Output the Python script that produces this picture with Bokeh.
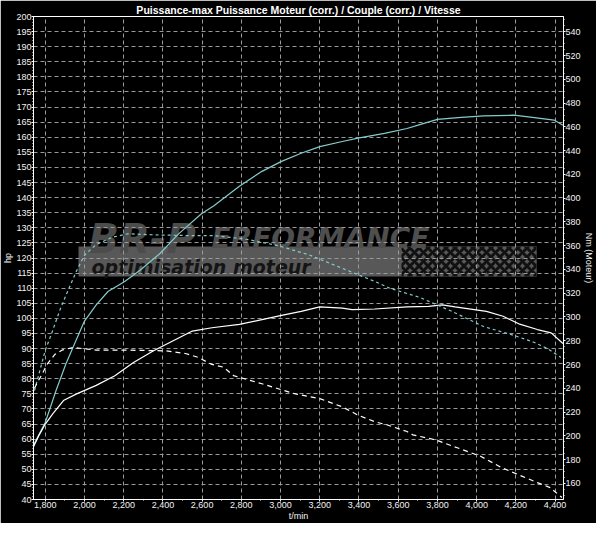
from bokeh.plotting import figure
from bokeh.models import (Range1d, LinearAxis, SingleIntervalTicker, NumeralTickFormatter,
                          Label, BoxAnnotation)
from bokeh.embed import file_html
from bokeh.resources import INLINE

# ---------------- data ----------------
TITLE = "Puissance-max Puissance Moteur (corr.) / Couple (corr.) / Vitesse"
X_LABEL = "t/min"
Y_LABEL = "hp"
Y2_LABEL = "Nm (Moteur)"

# power, tuned (cyan solid) - hp
rpm_power_tuned = [1740, 1800, 1855, 1905, 1945, 2000, 2060, 2120, 2205, 2285, 2385, 2480,
                   2595, 2660, 2790, 2905, 3005, 3105, 3200, 3315, 3395, 3530, 3645, 3710,
                   3800, 3905, 4035, 4190, 4295, 4395, 4440]
hp_power_tuned = [58.0, 65.5, 76.1, 84.9, 90.9, 99.1, 104.5, 108.9, 112.2, 116.0, 121.5, 128.0,
                  134.6, 137.3, 143.8, 148.7, 152.0, 154.7, 156.9, 158.6, 159.7, 161.3, 162.9, 164.2,
                  165.9, 166.5, 167.1, 167.3, 166.5, 165.7, 164.0]

# power, stock (white solid) - hp
rpm_power_stock = [1740, 1770, 1800, 1840, 1895, 1960, 2060, 2155, 2250, 2350, 2450, 2550,
                   2650, 2790, 2905, 3005, 3105, 3200, 3315, 3365, 3480, 3645, 3755, 3825,
                   3890, 4050, 4135, 4215, 4310, 4380, 4440]
hp_power_stock = [57.5, 61.5, 65.0, 68.5, 72.9, 75.0, 77.8, 81.0, 85.4, 89.2, 92.5, 95.8,
                  96.9, 98.0, 99.6, 101.0, 102.3, 103.8, 103.4, 102.9, 103.1, 103.8, 104.0, 104.5,
                  103.8, 102.3, 100.7, 98.2, 96.3, 95.2, 91.7]

# torque, tuned (cyan dashed) - Nm
rpm_torque_tuned = [1745, 1800, 1830, 1875, 1910, 1960, 2000, 2060, 2140, 2220, 2380, 2550,
                    2660, 2825, 2990, 3150, 3315, 3480, 3560, 3650, 3710, 3870, 4035, 4200,
                    4295, 4360, 4430]
nm_torque_tuned = [238, 272, 285, 306, 320, 339, 352, 361, 367, 370, 369, 368.5,
                   368.5, 365.5, 360, 352, 341, 330, 324, 319.5, 316.5, 305, 292, 284,
                   278.5, 273.5, 266]

# torque, stock (white dashed) - Nm
rpm_torque_stock = [1745, 1765, 1780, 1810, 1850, 1885, 1940, 2060, 2220, 2415, 2515, 2580,
                    2645, 2710, 2760, 2905, 3070, 3200, 3315, 3395, 3480, 3545, 3645, 3675,
                    3790, 3905, 4020, 4130, 4230, 4310, 4375, 4435]
nm_torque_stock = [240, 246.5, 250.7, 260.4, 268.7, 272.1, 274.3, 272.1, 272.1, 271.5, 269.3, 266.0,
                   260.4, 257.7, 250.7, 243.8, 235.5, 231.3, 224.4, 217.4, 211.9, 209.1, 203.6, 200.8,
                   196.6, 189.7, 182.8, 173.0, 166.1, 160.6, 156.4, 148.1]

# ---------------- figure ----------------
FONT = "Liberation Sans"
CYAN = "#84cccc"
TXT = "#f2f2f2"
W, H = 596, 523

p = figure(width=W, height=H, output_backend="svg", toolbar_location=None,
           x_range=Range1d(1740, 4443), y_range=Range1d(40, 200),
           min_border_left=0, min_border_right=0, min_border_top=0, min_border_bottom=0,
           background_fill_color="black", border_fill_color="black",
           outline_line_color="white", outline_line_width=1,
           title=TITLE)

p.title.text_font = FONT
p.title.text_font_style = "bold"
p.title.text_font_size = "10.5px"
p.title.text_color = "white"
p.title.align = "center"
p.title.standoff = 2
p.title.offset = 0

p.extra_y_ranges = {"nm": Range1d(146.4, 552.9)}

xt = SingleIntervalTicker(interval=200, num_minor_ticks=2)
yt = SingleIntervalTicker(interval=5, num_minor_ticks=5)
p.xaxis.ticker = xt
p.yaxis.ticker = yt
p.xgrid.ticker = xt
p.ygrid.ticker = yt
p.xaxis.formatter = NumeralTickFormatter(format="0,0")
p.xaxis.axis_label = X_LABEL
p.yaxis.axis_label = Y_LABEL

right = LinearAxis(y_range_name="nm", axis_label=Y2_LABEL,
                   ticker=SingleIntervalTicker(interval=20, num_minor_ticks=4))
p.add_layout(right, "right")


def style_axis(ax):
    ax.axis_line_color = "white"
    ax.major_tick_line_color = "white"
    ax.minor_tick_line_color = "white"
    ax.major_tick_in = 0
    ax.major_tick_out = 2
    ax.minor_tick_in = 0
    ax.minor_tick_out = 1
    ax.major_label_text_color = TXT
    ax.major_label_text_font = FONT
    ax.major_label_text_font_size = "9px"
    ax.major_label_standoff = 0
    ax.axis_label_text_color = TXT
    ax.axis_label_text_font = FONT
    ax.axis_label_text_font_size = "9px"
    ax.axis_label_text_font_style = "normal"
    ax.axis_label_standoff = 0


for ax in (p.xaxis[0], p.yaxis[0], right):
    style_axis(ax)

for g in (p.xgrid[0], p.ygrid[0]):
    g.grid_line_color = "#9a9a9a"
    g.grid_line_dash = "4 3"
    g.grid_line_width = 1

# ---------------- watermark logo (below grid) ----------------
p.add_layout(BoxAnnotation(left=45, right=503, bottom=223, top=253,
                           left_units="screen", right_units="screen",
                           bottom_units="screen", top_units="screen",
                           fill_color="#585858", fill_alpha=1, line_alpha=0, level="image"))
p.add_layout(BoxAnnotation(left=368, right=503, bottom=223, top=253,
                           left_units="screen", right_units="screen",
                           bottom_units="screen", top_units="screen",
                           fill_color="#585858", fill_alpha=1, line_alpha=0,
                           hatch_pattern="diagonal_cross", hatch_color="#111111",
                           hatch_scale=9, hatch_weight=3, level="image"))
p.add_layout(Label(x=55, y=261, x_units="screen", y_units="screen", text="BR-P",
                   text_font="DejaVu Sans", text_font_style="bold italic", text_font_size="40px",
                   text_color="#4c4c4c", text_baseline="alphabetic", level="image"))
p.add_layout(Label(x=178, y=261, x_units="screen", y_units="screen", text="ERFORMANCE",
                   text_font="DejaVu Sans", text_font_style="bold italic", text_font_size="28px",
                   text_color="#4e4e4e", text_baseline="alphabetic", level="image"))
p.add_layout(Label(x=58, y=233, x_units="screen", y_units="screen", text="optimisation moteur",
                   text_font="DejaVu Sans", text_font_style="bold italic", text_font_size="19px",
                   text_color="#141414", text_baseline="alphabetic", level="image"))

# ---------------- curves ----------------
p.line(rpm_power_tuned, hp_power_tuned, line_color=CYAN, line_width=1.2)
p.line(rpm_power_stock, hp_power_stock, line_color="white", line_width=1.2)
p.line(rpm_torque_tuned, nm_torque_tuned, y_range_name="nm", line_color=CYAN,
       line_width=1.2, line_dash="3 3")
p.line(rpm_torque_stock, nm_torque_stock, y_range_name="nm", line_color="white",
       line_width=1.2, line_dash="5 4")

open("out.html", "w").write(file_html(p, INLINE))
